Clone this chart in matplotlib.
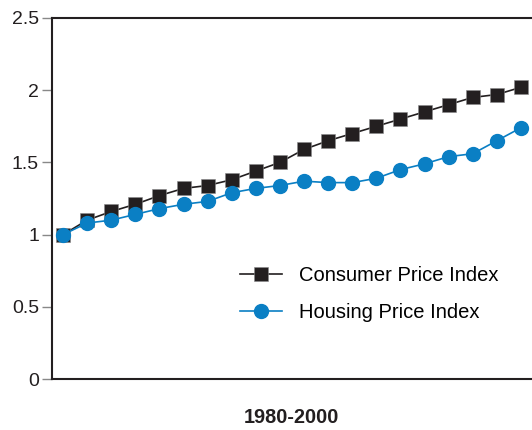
import numpy as np
import matplotlib.pyplot as plt

plt.rcParams['font.family'] = ['Liberation Sans', 'DejaVu Sans']

# index values, 1980-2000
cpi = [1.00, 1.10, 1.16, 1.21, 1.27, 1.32, 1.34, 1.38, 1.44, 1.50,
       1.59, 1.65, 1.70, 1.75, 1.80, 1.85, 1.90, 1.95, 1.97, 2.02]
housing = [1.00, 1.08, 1.10, 1.14, 1.18, 1.21, 1.23, 1.29, 1.32, 1.34,
           1.37, 1.36, 1.36, 1.39, 1.45, 1.49, 1.54, 1.56, 1.65, 1.74]
yticks = [0, 0.5, 1, 1.5, 2, 2.5]
ytick_labels = ['0', '0.5', '1', '1.5', '2', '2.5']

x = np.arange(len(cpi))
black = '#231f20'
blue = '#0a7fc4'

fig = plt.figure(figsize=(5.32, 4.30), dpi=100)
ax = fig.add_axes([51.5/532, 51/430, 1 - 51.5/532, 361/430])

ax.plot(x, cpi, color=black, lw=1.2, marker='s', ms=9.5,
        mfc=black, mec='#8a8a8a', mew=0.4, label='Consumer Price Index')
ax.plot(x, housing, color=blue, lw=1.2, marker='o', ms=10,
        mfc=blue, mec=blue, label='Housing Price Index')

ax.set_xlim(-0.48, 19.46)
ax.set_ylim(0, 2.5)
ax.set_yticks(yticks)
ax.set_yticklabels(ytick_labels, fontsize=14, color=black)
ax.set_xticks([])
ax.tick_params(axis='y', length=7, width=1, color='#888888', pad=2)

for side in ['left', 'bottom', 'top']:
    ax.spines[side].set_color(black)
    ax.spines[side].set_linewidth(1.5)
ax.spines['right'].set_visible(False)

ax.set_xlabel('1980-2000', fontsize=14.3, fontweight='bold', color=black, labelpad=21)

ax.legend(loc='upper left', bbox_to_anchor=(0.355, 0.363), frameon=False,
          fontsize=14.5, handlelength=2.1, handletextpad=0.8, labelspacing=0.9)

fig.savefig('out.png', dpi=100)
